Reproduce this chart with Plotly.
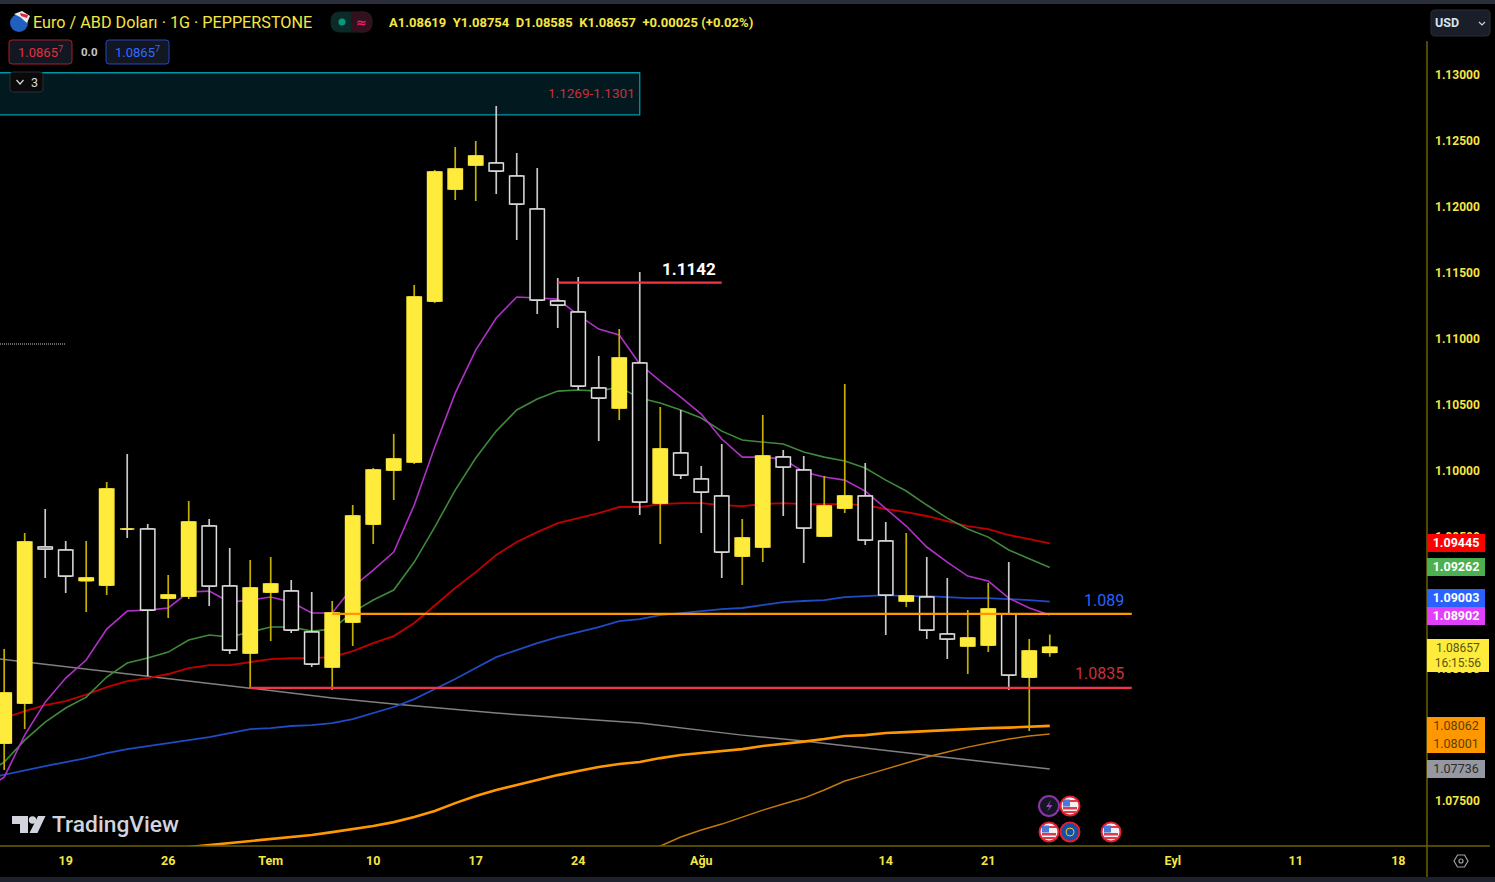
import pandas as pd
import plotly.graph_objects as go

W, H = 1495, 882
AX_R, AX_B = 1427, 846

# ---- data -----------------------------------------------------------------
session_start = "2023-06-13"
candle_open = [1.07932,1.08235,1.09417,1.09394,1.09163,1.09129,1.09553,1.09553,1.0903,1.09045,1.09576,1.09121,
 1.08614,1.09076,1.09083,1.08773,1.08508,1.08848,1.09591,1.1,1.10061,1.1128,1.12129,1.12311,
 1.12326,1.12227,1.11977,1.1128,1.11197,1.10621,1.1047,1.10811,1.0975,1.10129,1.09932,1.09803,
 1.09348,1.09417,1.10098,1.1,1.095,1.09712,1.09803,1.09462,1.09008,1.09038,1.08758,1.08667,1.08674,
 1.08909,1.08432,1.08619]
candle_high = [1.08644,1.09523,1.09705,1.09462,1.09462,1.09909,1.10121,1.09591,1.09205,1.09765,1.09629,1.09409,
 1.09318,1.09341,1.09167,1.09076,1.09008,1.09735,1.10015,1.10273,1.11402,1.12273,1.12447,1.12492,
 1.12758,1.12402,1.12288,1.11455,1.11462,1.10864,1.11068,1.115,1.10477,1.10455,1.1003,1.10197,
 1.09629,1.10417,1.10152,1.10106,1.09955,1.10652,1.10053,1.09606,1.09523,1.09341,1.09182,1.08939,1.09144,
 1.09303,1.0872,1.08754]
candle_low = [1.07727,1.08038,1.09182,1.09068,1.08924,1.09053,1.09485,1.08439,1.08879,1.09023,1.0897,1.08606,
 1.08348,1.08705,1.08765,1.08508,1.08333,1.08667,1.09439,1.09773,1.10045,1.11265,1.12045,1.12038,
 1.12091,1.11742,1.11182,1.11076,1.10606,1.1022,1.10379,1.09659,1.09439,1.09932,1.09523,1.09182,
 1.09129,1.09303,1.09652,1.09295,1.09492,1.09674,1.09432,1.0875,1.08962,1.0872,1.08568,1.08455,1.08621,
 1.08333,1.08023,1.08585]
candle_close = [1.08311,1.09455,1.09402,1.09197,1.09182,1.09856,1.09553,1.08939,1.09053,1.09606,1.09121,1.08636,
 1.09106,1.09136,1.08788,1.0853,1.08917,1.09652,1.1,1.10083,1.11311,1.12258,1.1228,1.12379,
 1.12265,1.12015,1.11288,1.1125,1.10636,1.10545,1.10848,1.09758,1.10159,1.09962,1.09833,1.09379,
 1.09485,1.10106,1.10023,1.09561,1.09727,1.09803,1.0947,1.09053,1.09045,1.08788,1.0872,1.08727,1.08947,
 1.08447,1.08629,1.08657]

ema_fast = [1.07576,1.07674,1.07992,1.08242,1.08424,1.08561,1.08795,1.08932,1.08939,1.08955,1.09076,1.09083,1.09,
 1.09015,1.09038,1.09,1.08917,1.08917,1.09114,1.09242,1.09379,1.09735,1.10174,1.10583,1.10909,1.11152,
 1.11311,1.11303,1.11295,1.11174,1.11068,1.11023,1.10803,1.10674,1.10553,1.10424,1.10235,1.10098,1.10098,
 1.10083,1.09985,1.09947,1.09924,1.09841,1.09712,1.09576,1.09417,1.09303,1.09197,1.09159,1.0903,1.08955,1.08902]
ema_mid = [1.07689,1.07788,1.07954,1.08091,1.08197,1.0828,1.08432,1.08538,1.08576,1.08621,1.08712,1.0875,1.08735,
 1.08773,1.08811,1.08811,1.0878,1.08795,1.08924,1.09015,1.09091,1.09303,1.09568,1.09848,1.10091,1.10295,
 1.10455,1.10538,1.10598,1.10606,1.10598,1.10629,1.10545,1.10508,1.10455,1.10394,1.10295,1.10227,1.10212,
 1.10197,1.10136,1.10098,1.10068,1.10015,1.09924,1.09841,1.09735,1.09636,1.09553,1.09492,1.09394,1.09326,1.09262]
ema_slow = [1.08076,1.08121,1.08174,1.0822,1.0825,1.08299,1.08356,1.08401,1.08424,1.08455,1.085,1.08523,1.08523,
 1.08545,1.08568,1.08576,1.08576,1.08583,1.08629,1.08689,1.08742,1.08841,1.08977,1.09106,1.09227,1.09356,
 1.09455,1.0953,1.09598,1.09636,1.09674,1.0972,1.0972,1.09742,1.0975,1.0975,1.09735,1.09727,1.09742,
 1.0975,1.09742,1.09742,1.09742,1.09735,1.09705,1.09682,1.09652,1.09614,1.09576,1.09553,1.09508,1.09477,1.09445]
ema_long = [1.07659,1.07693,1.07727,1.07757,1.07788,1.07818,1.07856,1.07886,1.07909,1.07932,1.07954,1.07977,1.08008,
 1.08038,1.08045,1.08061,1.08068,1.08083,1.08114,1.08159,1.08205,1.08265,1.08341,1.08417,1.085,1.08583,
 1.08636,1.08689,1.08735,1.08773,1.08811,1.08856,1.08871,1.08901,1.08917,1.08932,1.08947,1.08955,1.08977,
 1.09,1.09008,1.09015,1.09038,1.09045,1.09053,1.09045,1.09045,1.09038,1.0903,1.0903,1.09023,1.09015,1.09003]
sma_long_start = "2023-06-26"
sma_long = [1.07129,1.07144,1.07159,1.07174,1.07189,1.07204,1.0722,1.07235,1.07257,1.0728,1.07303,1.07333,1.07371,
 1.07417,1.07477,1.0753,1.07576,1.07614,1.07651,1.07689,1.0772,1.0775,1.07773,1.07788,1.07818,1.07841,
 1.07856,1.07871,1.07886,1.07909,1.07924,1.07943,1.07962,1.07985,1.07992,1.08008,1.08015,1.08023,1.0803,
 1.08042,1.08045,1.08049,1.08053,1.08062]
sma_thin_start = "2023-07-27"
sma_thin = [1.07083,1.07151,1.0722,1.07273,1.07318,1.07371,1.07424,1.0747,1.07515,1.07576,1.07644,1.07689,1.07735,
 1.0778,1.07826,1.07864,1.07901,1.07932,1.07962,1.07985,1.08001]
gray_dates = ["2023-06-13","2023-06-21","2023-06-23","2023-06-30","2023-07-06","2023-07-11","2023-07-18","2023-07-25",
              "2023-07-27","2023-08-03","2023-08-08","2023-08-17","2023-08-24"]
gray_vals = [1.08583,1.08477,1.08439,1.08348,1.08273,1.08227,1.08159,1.08106,1.08083,1.07992,1.07947,1.07822,1.07736]

x_tick_dates = ["2023-06-19","2023-06-26","2023-07-03","2023-07-10","2023-07-17","2023-07-24","2023-08-01",
                "2023-08-14","2023-08-21","2023-09-01","2023-09-11","2023-09-18"]
x_tick_text = ["19","26","Tem","10","17","24","Ağu","14","21","Eyl","11","18"]
y_ticks = [1.075,1.08,1.085,1.09,1.095,1.10,1.105,1.11,1.115,1.12,1.125,1.13]
y_range = [1.07152,1.13561]
x_range_dates = ["2023-06-13 19:05","2023-09-19 09:36"]

level_orange = 1.0891
level_red = 1.0835
level_res = 1.1142
zone_low, zone_high = 1.1269, 1.1301
dotted_level = 1.10955
# label, price, fill, text colour, bold, nudge in px (TradingView spreads touching tags apart)
tags = [("1.09445",1.09445,"#ff0000","#ffffff",True,0),("1.09262",1.09262,"#4caf50","#ffffff",True,0),
        ("1.09003",1.09003,"#2962ff","#ffffff",True,4),("1.08902",1.08902,"#e040fb","#ffffff",True,-1),
        ("1.08001",1.08001,"#ff9800","#5a4000",False,-10),("1.08062",1.08062,"#ff9800","#5a4000",False,0),
        ("1.07736",1.07736,"#9598a1","#2b2b2b",False,-0.5)]

# ---- derived --------------------------------------------------------------
NOON = pd.Timedelta(hours=12)   # sessions sit mid-day so bodies stay clear of the weekend breaks
def d(s): return (pd.Timestamp(s) + NOON).strftime("%Y-%m-%d %H:%M")
sessions = pd.bdate_range(session_start, periods=len(ema_fast)) + NOON
candle_dates = sessions[1:]
body_top = [max(o, c) for o, c in zip(candle_open, candle_close)]
body_bot = [min(o, c) for o, c in zip(candle_open, candle_close)]
body_up = [c >= o for o, c in zip(candle_open, candle_close)]
x_range = [d(x_range_dates[0]), d(x_range_dates[1])]

YEL = "#F5E642"
fig = go.Figure()

def line(x, y, color, w):
    fig.add_trace(go.Scatter(x=x, y=y, mode="lines", line=dict(color=color, width=w), hoverinfo="skip", yaxis="y"))

line([d(v) for v in gray_dates], gray_vals, "#808080", 1.5)
line(pd.bdate_range(sma_thin_start, periods=len(sma_thin)) + NOON, sma_thin, "#c47a0a", 1.5)
line(pd.bdate_range(sma_long_start, periods=len(sma_long)) + NOON, sma_long, "#ff9800", 2.6)
line(sessions, ema_long, "#1f4bc4", 1.8)
line(sessions, ema_slow, "#c00000", 1.8)
line(sessions, ema_mid, "#3f8a3a", 1.6)
line(sessions, ema_fast, "#b030c8", 1.6)

fig.add_trace(go.Candlestick(x=candle_dates, open=candle_open, high=candle_high, low=candle_low, close=candle_close,
    yaxis="y2", hoverinfo="skip",
    increasing=dict(line=dict(color="#c4b000", width=1.7), fillcolor="#c4b000"),
    decreasing=dict(line=dict(color="#c8c8c8", width=1.7), fillcolor="#000000")))
fig.add_trace(go.Bar(x=candle_dates, y=[t - b for t, b in zip(body_top, body_bot)], base=body_bot, yaxis="y3", hoverinfo="skip",
    width=0.70 * 86400000,
    marker=dict(color=["#FFEB3B" if u else "#000000" for u in body_up],
                line=dict(color=["#FFEB3B" if u else "#e0e0e0" for u in body_up], width=1.5))))

# ---- chrome helpers (page pixels -> paper) --------------------------------
def px(x): return x / AX_R
def py(y): return (AX_B - y) / AX_B

shapes, annos = [], []
def rect(x0, y0, x1, y1, fill=None, ln=None, lw=1):
    shapes.append(dict(type="rect", xref="paper", yref="paper", x0=px(x0), x1=px(x1), y0=py(y0), y1=py(y1),
                       fillcolor=fill or "rgba(0,0,0,0)", line=dict(color=ln or "rgba(0,0,0,0)", width=lw if ln else 0), layer="above"))
def circ(cx, cy, r, fill=None, ln=None, lw=1):
    shapes.append(dict(type="circle", xref="paper", yref="paper", x0=px(cx-r), x1=px(cx+r), y0=py(cy-r), y1=py(cy+r),
                       fillcolor=fill or "rgba(0,0,0,0)", line=dict(color=ln or "rgba(0,0,0,0)", width=lw if ln else 0), layer="above"))
def poly(pts, fill=None, ln=None, lw=1, close=True):
    p = "M " + " L ".join(f"{px(a):.5f},{py(b):.5f}" for a, b in pts) + (" Z" if close else "")
    shapes.append(dict(type="path", xref="paper", yref="paper", path=p,
                       fillcolor=fill or "rgba(0,0,0,0)", line=dict(color=ln or "rgba(0,0,0,0)", width=lw if ln else 0), layer="above"))
def rrect(x0, y0, x1, y1, r, fill, ln, lw=1):
    p = (f"M {px(x0+r):.5f},{py(y0):.5f} L {px(x1-r):.5f},{py(y0):.5f} Q {px(x1):.5f},{py(y0):.5f} {px(x1):.5f},{py(y0+r):.5f} "
         f"L {px(x1):.5f},{py(y1-r):.5f} Q {px(x1):.5f},{py(y1):.5f} {px(x1-r):.5f},{py(y1):.5f} "
         f"L {px(x0+r):.5f},{py(y1):.5f} Q {px(x0):.5f},{py(y1):.5f} {px(x0):.5f},{py(y1-r):.5f} "
         f"L {px(x0):.5f},{py(y0+r):.5f} Q {px(x0):.5f},{py(y0):.5f} {px(x0+r):.5f},{py(y0):.5f} Z")
    shapes.append(dict(type="path", xref="paper", yref="paper", path=p, fillcolor=fill, line=dict(color=ln, width=lw), layer="above"))
def text(x, y, s, size, color, anchor="left", bold=False, family="Roboto", weight=None):
    f = dict(size=size, color=color, family=family)
    if weight: f["weight"] = weight
    annos.append(dict(xref="paper", yref="paper", x=px(x), y=py(y), text=f"<b>{s}</b>" if bold else s, showarrow=False,
                      xanchor=anchor, yanchor="middle", font=f, borderpad=0, borderwidth=0))

# zone and levels, drawn through the data axes
shapes.append(dict(type="rect", xref="x", yref="y", x0=d("2023-06-01"), x1=d("2023-07-27"), y0=zone_low, y1=zone_high,
                   fillcolor="#02191f", line=dict(color="#0097a7", width=1.3), layer="below"))
shapes.append(dict(type="line", xref="x", yref="y", x0=d("2023-06-30"), x1=d("2023-08-30"), y0=level_red, y1=level_red,
                   line=dict(color="#f23645", width=2.2), layer="above"))
shapes.append(dict(type="line", xref="x", yref="y", x0=d("2023-07-06"), x1=d("2023-08-30"), y0=level_orange, y1=level_orange,
                   line=dict(color="#ff9800", width=2.2), layer="above"))
shapes.append(dict(type="line", xref="x", yref="y", x0=d("2023-07-21"), x1=d("2023-08-02"), y0=level_res, y1=level_res,
                   line=dict(color="#f23645", width=2.2), layer="above"))
shapes.append(dict(type="line", xref="x", yref="y", x0=x_range[0], x1=d("2023-06-19"), y0=dotted_level, y1=dotted_level,
                   line=dict(color="#c8c8c8", width=1, dash="1px,1px"), layer="above"))

annos += [
    dict(xref="x", yref="y", x=d("2023-07-27"), y=(zone_low+zone_high)/2, text="1.1269-1.1301", showarrow=False, xanchor="right",
         xshift=-3, yshift=1, font=dict(size=13.5, color="#c8303c", family="Roboto")),
    dict(xref="x", yref="y", x=d("2023-08-30"), y=level_orange, text="1.089", showarrow=False, xanchor="right", xshift=-6, yshift=13,
         font=dict(size=16, color="#2962ff", family="Roboto")),
    dict(xref="x", yref="y", x=d("2023-08-30"), y=level_red, text="1.0835", showarrow=False, xanchor="right", xshift=-6, yshift=14,
         font=dict(size=16, color="#c8303c", family="Roboto")),
    dict(xref="x", yref="y", x=d("2023-08-01"), y=level_res, text="<b>1.1142</b>", showarrow=False, xanchor="center", xshift=-12, yshift=14,
         font=dict(size=17, color="#ffffff", family="Roboto")),
]

# price tags on the axis
for label, val, bg, fg, bold, nudge in tags:
    annos.append(dict(xref="paper", yref="y", x=1, y=val, yshift=nudge, text=f"<b>{label}</b>" if bold else label, showarrow=False,
                      xanchor="left", yanchor="middle", width=58, height=17.5, bgcolor=bg, align="center", borderpad=0, borderwidth=0,
                      font=dict(size=12.5, color=fg, family="Roboto")))
annos.append(dict(xref="paper", yref="paper", x=1, y=py(655.7), text="1.08657<br>16:15:56", showarrow=False, xanchor="left", yanchor="middle",
                  width=62, height=33, bgcolor="#FFEB3B", align="center", borderpad=0, borderwidth=0,
                  font=dict(size=12, color="#5a5410", family="Roboto")))

# frame
rect(0, 0, W, 4, "#2a2e39")
rect(0, 877, W, H, "#1e222d")
poly([(1427, 41), (1427, 877)], ln="#6b5f00", lw=1.5, close=False)
poly([(0, 846), (1490, 846)], ln="#6b5f00", lw=1.5, close=False)

# header
text(33, 22, "Euro / ABD Doları · 1G · PEPPERSTONE", 16.2, YEL)
text(389, 22, "A1.08619  Y1.08754  D1.08585  K1.08657  +0.00025 (+0.02%)", 13, YEL, bold=True)
circ(19, 23, 9, "#1f5fbf")
poly([(14, 14), (22, 11), (30, 16), (27, 23), (20, 17)], "#e9e9ee")
poly([(20, 13), (28, 15), (27, 18), (21, 16)], "#d8263a")
rrect(331, 12, 372, 32, 9, "#0b2a28", "#0b2a28")
rect(351, 12, 362, 32, "#33101e")
rrect(352, 12, 372, 32, 9, "#33101e", "#33101e")
circ(342, 22, 3.5, "#089981")
text(361, 22, "≈", 13, "#e91e63", "center", True, "DejaVu Sans")
rrect(9, 40, 72, 64, 3, "#131722", "#a8202c")
text(40.5, 52, "1.0865<sup>7</sup>", 13, "#e03040", "center")
text(89, 52, "0.0", 11.5, "#c8c8c8", "center", True)
rrect(106, 40, 169, 64, 3, "#131722", "#2448c0")
text(137.5, 52, "1.0865<sup>7</sup>", 13, "#2f6bff", "center")
rrect(10, 72, 43, 92, 3, "#0a0a0a", "#2a2e39")
poly([(16.5, 80), (20, 84), (23.5, 80)], ln="#d8d8d8", lw=1.2, close=False)
text(34, 82, "3", 12.5, "#d8d8d8", "center")
# currency button
rrect(1431, 10, 1490, 36, 4, "#1a1e29", "#2a2e39")
text(1435, 23, "USD", 12.5, "#d8e4f0", bold=True)
poly([(1479, 22), (1482, 25), (1485, 22)], ln="#d0d0d0", lw=1.2, close=False)
# settings
poly([(1454, 861), (1457.5, 855), (1464.5, 855), (1468, 861), (1464.5, 867), (1457.5, 867)], ln="#a0a0a0", lw=1.2)
circ(1461, 861, 2, None, "#a0a0a0", 1.2)

# watermark
text(52, 824, "TradingView", 22.8, "#d1d4dc", family="Roboto", weight=500)
poly([(12, 816), (28, 816), (28, 833), (20, 833), (20, 824), (12, 824)], "#d1d4dc")
circ(32.5, 820, 3.7, "#d1d4dc")
poly([(38, 816), (45.5, 816), (37.5, 833), (29.5, 833)], "#d1d4dc")

# event markers
def us_flag(cx, cy):
    circ(cx, cy, 9.5, "#f0f0f5", "#e02030", 2)
    rect(cx-7, cy+1, cx+7, cy+3.5, "#e23a48")
    rect(cx-6, cy+5, cx+6, cy+7, "#e23a48")
    rect(cx-7, cy-6, cx+7, cy-4, "#e23a48")
    rect(cx-7, cy-6.5, cx, cy+0.5, "#4a78d8")
circ(1049, 806, 10, "#131722", "#8e34a8", 2)
poly([(1051, 800), (1046, 807), (1049.5, 807), (1047, 812), (1052.5, 805), (1049, 805)], "#a040c0")
us_flag(1070, 806)
us_flag(1049, 832)
circ(1070, 832, 9.5, "#1450a8", "#e02030", 2)
circ(1070, 832, 4, None, "#e8c820", 1)
us_flag(1111, 832)

fig.update_layout(
    width=W, height=H, margin=dict(l=0, r=W-AX_R, t=0, b=H-AX_B, pad=0, autoexpand=False),
    paper_bgcolor="#000000", plot_bgcolor="#000000", showlegend=False, barmode="overlay",
    font=dict(family="Roboto", color=YEL),
    shapes=shapes, annotations=annos,
    xaxis=dict(type="date", range=x_range, rangebreaks=[dict(bounds=["sat", "mon"])], rangeslider=dict(visible=False),
               tickmode="array", tickvals=[d(v) for v in x_tick_dates], ticktext=x_tick_text, showgrid=False, zeroline=False, showline=False,
               ticks="", ticklabelstandoff=5, tickfont=dict(size=12.5, color=YEL, family="Roboto", weight="bold")),
    yaxis=dict(side="right", range=y_range, tickmode="array", tickvals=y_ticks, tickformat=".5f", showgrid=False, zeroline=False,
               showline=False, ticks="", ticklabelstandoff=7, ticklabelshift=1, tickfont=dict(size=12, color=YEL, family="Roboto", weight="bold")),
    yaxis2=dict(overlaying="y", side="right", range=y_range, visible=False, showgrid=False, zeroline=False),
    yaxis3=dict(overlaying="y", side="right", range=y_range, visible=False, showgrid=False, zeroline=False),
)
fig.write_html("out.html", config=dict(displayModeBar=False),
               post_script="document.body.style.margin='0';document.body.style.background='#000';document.documentElement.style.overflow='hidden';")
